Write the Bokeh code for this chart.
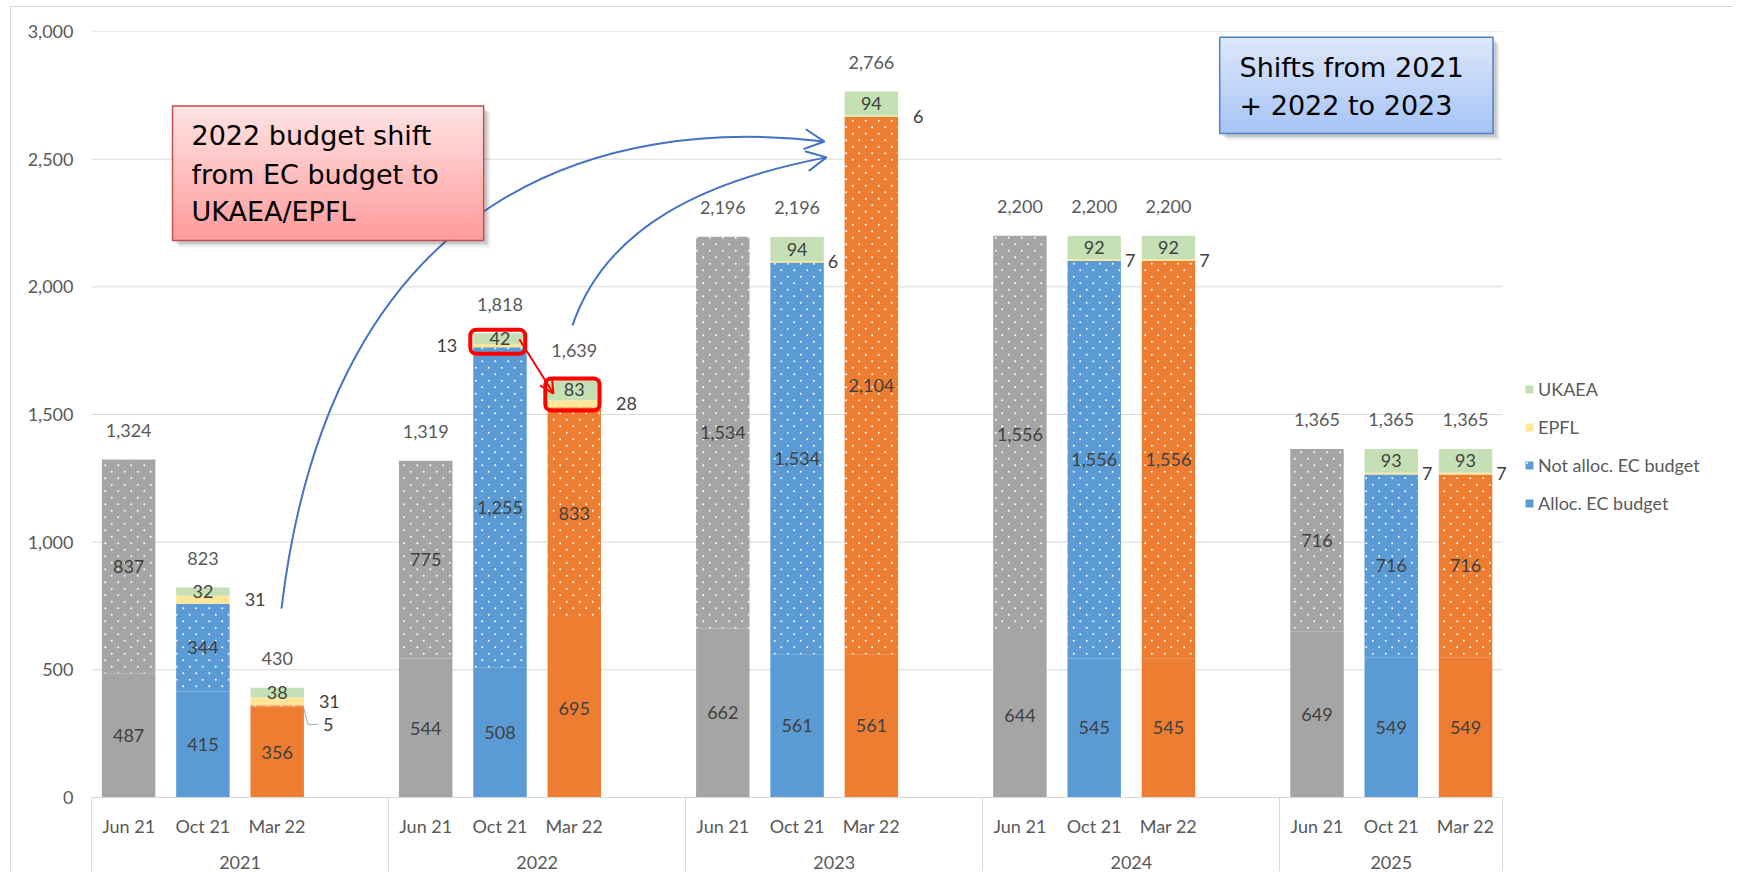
import base64
from bokeh.plotting import figure
from bokeh.models import (ColumnDataSource, FixedTicker, NumeralTickFormatter, LinearAxis,
                          Range1d, Legend, LegendItem, Arrow, OpenHead, BoxAnnotation,
                          ImageURLTexture)
from bokeh.transform import stack
from bokeh.core.properties import value
from bokeh.embed import file_html
from bokeh.resources import INLINE

# ---------------- data ----------------
years = ["2021", "2022", "2023", "2024", "2025"]
versions = ["Jun 21", "Oct 21", "Mar 22"]
alloc = [487, 415, 356, 544, 508, 695, 662, 561, 561, 644, 545, 545, 649, 549, 549]
not_alloc = [837, 344, 5, 775, 1255, 833, 1534, 1534, 2104, 1556, 1556, 1556, 716, 716, 716]
epfl = [0, 31, 31, 0, 13, 28, 0, 6, 6, 0, 7, 7, 0, 7, 7]
ukaea = [0, 32, 38, 0, 42, 83, 0, 94, 94, 0, 92, 92, 0, 93, 93]
totals = [1324, 823, 430, 1319, 1818, 1639, 2196, 2196, 2766, 2200, 2200, 2200, 1365, 1365, 1365]
y_ticks = [0, 500, 1000, 1500, 2000, 2500, 3000]
legend_labels = ["UKAEA", "EPFL", "Not alloc. EC budget", "Alloc. EC budget"]

# ---------------- styling ----------------
version_colors = ["#A5A5A5", "#5B9BD5", "#ED7D31"]
EPFL_COLOR = "#FFE699"
UKAEA_COLOR = "#C5E0B4"
GRID = "#D9D9D9"
TXT = "#595959"
TXT_IN = "#404040"
FONT = "Lato"
FS = "18px"
FRAME_W, FRAME_H = 1634, 766
X_MAX, Y_MAX = 22, 3000
PX = X_MAX / FRAME_W      # slots per pixel
PY = Y_MAX / FRAME_H      # units per pixel
BAR_W = 0.72
HALF = BAR_W / 2

# staggered white-dot texture (like Excel's 5% pattern)
dot_svg = ('<svg xmlns="http://www.w3.org/2000/svg" width="13" height="13">'
           '<circle cx="3.25" cy="3.25" r="0.95" fill="white"/>'
           '<circle cx="9.75" cy="9.75" r="0.95" fill="white"/></svg>')
dot_url = "data:image/svg+xml;base64," + base64.b64encode(dot_svg.encode()).decode()
dot_texture = ImageURLTexture(url=dot_url)

xs, cats, colors = [], [], []
for g, yr in enumerate(years):
    for v, ver in enumerate(versions):
        xs.append(g * 4 + v + 0.5)
        cats.append(ver)
        colors.append(version_colors[v])
n_slots = 4 * (len(years) - 1) + len(versions)
boundaries = [4 * g for g in range(len(years))] + [n_slots]
year_centers = [(a + b) / 2 for a, b in zip(boundaries[:-1], boundaries[1:])]

src = ColumnDataSource(dict(x=xs, alloc=alloc, not_alloc=not_alloc, epfl=epfl,
                            ukaea=ukaea, color=colors))

p = figure(frame_width=FRAME_W, frame_height=FRAME_H,
           x_range=Range1d(0, X_MAX), y_range=Range1d(0, Y_MAX),
           output_backend="svg", toolbar_location=None, x_axis_location=None,
           min_border_left=80, min_border_top=24, min_border_right=8, min_border_bottom=0,
           background_fill_color="white", border_fill_color="white", outline_line_color=None,
           styles={"margin-left": "10px", "margin-top": "6px",
                   "border-left": "1px solid #D9D9D9", "border-top": "1px solid #D9D9D9"})
p.xgrid.visible = False
p.ygrid.visible = False

# y axis
p.yaxis.ticker = FixedTicker(ticks=y_ticks)
p.yaxis.formatter = NumeralTickFormatter(format="0,0")
p.yaxis.axis_line_color = None
p.yaxis.major_tick_line_color = None
p.yaxis.minor_tick_line_color = None
p.yaxis.major_tick_out = 0
p.yaxis.minor_tick_out = 0
p.yaxis.major_label_standoff = 18
p.yaxis.major_label_text_font = FONT
p.yaxis.major_label_text_font_size = FS
p.yaxis.major_label_text_color = TXT

# category axis (versions) with group separators as minor ticks
ax1 = LinearAxis(ticker=FixedTicker(ticks=xs, minor_ticks=boundaries),
                 major_label_overrides={x: c for x, c in zip(xs, cats)},
                 bounds=(0, n_slots), axis_line_color=GRID,
                 major_tick_line_color=None, major_tick_out=0, major_tick_in=0,
                 minor_tick_out=84, minor_tick_in=0, minor_tick_line_color=GRID,
                 major_label_standoff=-67, major_label_text_font=FONT,
                 major_label_text_font_size=FS, major_label_text_color=TXT)
p.add_layout(ax1, "below")
ax2 = LinearAxis(ticker=FixedTicker(ticks=year_centers, minor_ticks=[]),
                 major_label_overrides={x: y for x, y in zip(year_centers, years)},
                 axis_line_color=None, major_tick_line_color=None, major_tick_out=0,
                 major_tick_in=0, minor_tick_line_color=None, minor_tick_out=0,
                 major_label_standoff=16, major_label_text_font=FONT,
                 major_label_text_font_size=FS, major_label_text_color=TXT)
p.add_layout(ax2, "below")

# gridlines (only over the category span)
gl = [t for t in y_ticks if t > 0]
p.segment(x0=[0] * len(gl), x1=[n_slots] * len(gl), y0=gl, y1=gl, line_color=GRID, line_width=1)

# bars
r_alloc = p.vbar(x="x", width=BAR_W, bottom=0, top="alloc", source=src,
                 fill_color="color", line_color=None)
r_not = p.vbar(x="x", width=BAR_W, bottom="alloc", top=stack("alloc", "not_alloc"), source=src,
               fill_color="color", line_color=None, hatch_pattern=value("dots"),
               hatch_extra={"dots": dot_texture})
r_epfl = p.vbar(x="x", width=BAR_W, bottom=stack("alloc", "not_alloc"),
                top=stack("alloc", "not_alloc", "epfl"), source=src,
                fill_color=EPFL_COLOR, line_color=None)
r_uk = p.vbar(x="x", width=BAR_W, bottom=stack("alloc", "not_alloc", "epfl"),
              top=stack("alloc", "not_alloc", "epfl", "ukaea"), source=src,
              fill_color=UKAEA_COLOR, line_color=None)

# labels inside bars
lx, ly, lt = [], [], []
for i, x in enumerate(xs):
    lx.append(x); ly.append(alloc[i] / 2); lt.append(f"{alloc[i]:,}")
    if not_alloc[i] >= 50:
        lx.append(x); ly.append(alloc[i] + not_alloc[i] / 2); lt.append(f"{not_alloc[i]:,}")
    if ukaea[i] > 0:
        lx.append(x); ly.append(alloc[i] + not_alloc[i] + epfl[i] + ukaea[i] / 2)
        lt.append(f"{ukaea[i]:,}")
p.text(x=lx, y=ly, text=lt, text_font=value(FONT), text_font_size=FS, text_color=TXT_IN,
       text_align="center", text_baseline="middle")

# totals above
p.text(x=xs, y=[t + 29 * PY for t in totals], text=[f"{t:,}" for t in totals],
       text_font=value(FONT), text_font_size=FS, text_color=TXT,
       text_align="center", text_baseline="middle")

# EPFL labels beside the bars (left for 2022 Oct 21); pixel gaps as in the original
wide_gap = {1, 2, 5, 8}
ex_r, ey_r, et_r, ex_l, ey_l, et_l = [], [], [], [], [], []
for i, x in enumerate(xs):
    if epfl[i] > 0:
        yy = alloc[i] + not_alloc[i] + epfl[i] / 2
        if i == 4:
            ex_l.append(x - HALF - 16 * PX); ey_l.append(yy); et_l.append(str(epfl[i]))
        else:
            gap = 15 if i in wide_gap else 4
            ex_r.append(x + HALF + gap * PX); ey_r.append(yy); et_r.append(str(epfl[i]))
p.text(x=ex_r, y=ey_r, text=et_r, text_font=value(FONT), text_font_size=FS, text_color=TXT_IN,
       text_align="left", text_baseline="middle")
p.text(x=ex_l, y=ey_l, text=et_l, text_font=value(FONT), text_font_size=FS, text_color=TXT_IN,
       text_align="right", text_baseline="middle")

# tiny not-allocated value with leader line
for i, x in enumerate(xs):
    if 0 < not_alloc[i] < 50:
        edge = x + HALF
        y_mid = alloc[i] + not_alloc[i] / 2
        y_lab = y_mid - 72
        p.line(x=[edge, edge + 4 * PX, edge + 14 * PX], y=[y_mid - 10, y_lab, y_lab],
               line_color="#A6A6A6", line_width=1)
        p.text(x=[edge + 19 * PX], y=[y_lab], text=[str(not_alloc[i])], text_font=value(FONT),
               text_font_size=FS, text_color=TXT_IN, text_align="left", text_baseline="middle")

# curved blue arrows (behind the red box)
ARROW_BLUE = "#4472C4"
curves = [
    ((2.558, 740), (3.231, 2385), (6.907, 2671), (9.869, 2569)),
    ((6.476, 1849), (6.934, 2240), (8.281, 2417), (9.896, 2507)),
]
p.bezier(x0=[c[0][0] for c in curves], y0=[c[0][1] for c in curves],
         cx0=[c[1][0] for c in curves], cy0=[c[1][1] for c in curves],
         cx1=[c[2][0] for c in curves], cy1=[c[2][1] for c in curves],
         x1=[c[3][0] for c in curves], y1=[c[3][1] for c in curves],
         line_color=ARROW_BLUE, line_width=2)
for c in curves:
    (x2, y2), (x3, y3) = c[2], c[3]
    p.add_layout(Arrow(end=OpenHead(size=20, line_color=ARROW_BLUE, line_width=2),
                       x_start=x3 - 0.04 * (x3 - x2), y_start=y3 - 0.04 * (y3 - y2),
                       x_end=x3, y_end=y3, line_alpha=0))


def lerp(c0, c1, t):
    return "#%02x%02x%02x" % tuple(int(round(a + (b - a) * t)) for a, b in zip(c0, c1))


def gradient_box(x0, x1, y0, y1, top_rgb, bot_rgb, border, n=36):
    for k, a in [(7, 0.05), (5, 0.07), (3.5, 0.10)]:
        p.quad(left=x0 + k * PX, right=x1 + k * PX, bottom=y0 - k * PY, top=y1 - k * PY,
               fill_color="black", fill_alpha=a, line_color=None)
    h = (y1 - y0) / n
    tops = [y1 - j * h for j in range(n)]
    cols = [lerp(top_rgb, bot_rgb, (j + 0.5) / n) for j in range(n)]
    p.quad(left=[x0] * n, right=[x1] * n, top=tops, bottom=[t - h for t in tops],
           fill_color=cols, line_color=cols, line_width=1)
    p.quad(left=[x0], right=[x1], top=[y1], bottom=[y0], fill_color=None,
           line_color=border, line_width=1.5)


BOX_FONT = value("DejaVu Sans")
gradient_box(1.091, 5.280, 2181.5, 2708.3, (255, 228, 228), (255, 155, 155), "#C0504D")
p.text(x=[1.346] * 3, y=[2590.8, 2438.4, 2295.1],
       text=["2022 budget shift", "from EC budget to", "UKAEA/EPFL"],
       text_font=BOX_FONT, text_font_size="27px", text_color="black",
       text_align="left", text_baseline="middle")
gradient_box(15.19, 18.87, 2600.6, 2977.7, (222, 232, 251), (166, 196, 245), "#4F81BD")
p.text(x=[15.457] * 2, y=[2860.2, 2708.3],
       text=["Shifts from 2021", "+ 2022 to 2023"],
       text_font=BOX_FONT, text_font_size="27px", text_color="black",
       text_align="left", text_baseline="middle")

# red highlight boxes and arrow
for (l, r, b, t) in [(5.10, 5.84, 1738, 1832), (6.11, 6.84, 1516, 1641)]:
    p.add_layout(BoxAnnotation(left=l, right=r, bottom=b, top=t, fill_alpha=0,
                               line_color="#FF0000", line_alpha=1.0, line_width=4,
                               border_radius=6))
p.add_layout(Arrow(end=OpenHead(size=14, line_color="#FF0000", line_width=2),
                   x_start=5.76, y_start=1795, x_end=6.22, y_end=1582,
                   line_color="#FF0000", line_width=2))

# legend
legend = Legend(items=[
    LegendItem(label=legend_labels[0], renderers=[r_uk], index=1),
    LegendItem(label=legend_labels[1], renderers=[r_epfl], index=1),
    LegendItem(label=legend_labels[2], renderers=[r_not], index=1),
    LegendItem(label=legend_labels[3], renderers=[r_alloc], index=1),
], location=(1433, 283), padding=0, margin=0, spacing=16, label_height=22,
    glyph_height=10, glyph_width=10, label_standoff=4,
    label_text_font=FONT, label_text_font_size=FS, label_text_color=TXT,
    background_fill_alpha=0, border_line_alpha=0)
p.add_layout(legend)

open("out.html", "w").write(file_html(p, INLINE))
